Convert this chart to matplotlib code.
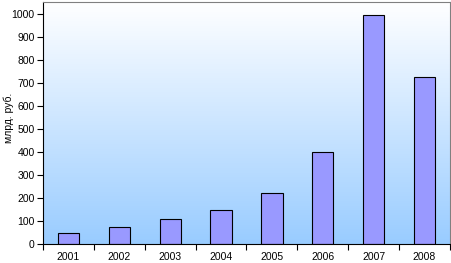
import numpy as np
import matplotlib
matplotlib.use("Agg")
import matplotlib.pyplot as plt
from matplotlib.colors import LinearSegmentedColormap

# данные
years = ["2001", "2002", "2003", "2004", "2005", "2006", "2007", "2008"]
values = [49, 72, 107, 146, 222, 401, 997, 725]

plt.rcParams['font.family'] = ['Liberation Sans', 'DejaVu Sans']

fig = plt.figure(figsize=(4.52, 2.63), dpi=100)
ax = fig.add_axes([43 / 452, 19 / 263, 407 / 452, 242 / 263])

# градиентный фон
cmap = LinearSegmentedColormap.from_list("bg", ["#99CCFF", "#FFFFFF"])
grad = np.linspace(0, 1, 256).reshape(-1, 1)
ax.imshow(grad, aspect="auto", cmap=cmap, origin="lower",
          extent=[0, 1, 0, 1], transform=ax.transAxes, zorder=0)

x = np.arange(len(years))
ax.bar(x, values, width=0.42, color="#9999FF", edgecolor="black",
       linewidth=0.8, zorder=2)

ax.set_xlim(-0.5, len(years) - 0.5)
ax.set_ylim(0, 1052)
ax.set_yticks(range(0, 1001, 100))
ax.set_xticks(x)
ax.set_xticklabels(years)
ax.set_xticks(np.arange(-0.5, len(years), 1), minor=True)
ax.tick_params(axis="x", which="major", length=0, labelsize=7.5, pad=6)
ax.tick_params(axis="x", which="minor", length=4, width=0.8, direction="out")
ax.tick_params(axis="y", length=4, width=0.8, labelsize=7.5, pad=2)

ax.set_ylabel("млрд. руб.", fontsize=7.5)
ax.yaxis.set_label_coords(-29 / 407, 0.52)

for s in ["top", "right"]:
    ax.spines[s].set_color("#808080")
    ax.spines[s].set_linewidth(0.8)
for s in ["left", "bottom"]:
    ax.spines[s].set_color("black")
    ax.spines[s].set_linewidth(0.8)

fig.savefig("out.png", dpi=100)
